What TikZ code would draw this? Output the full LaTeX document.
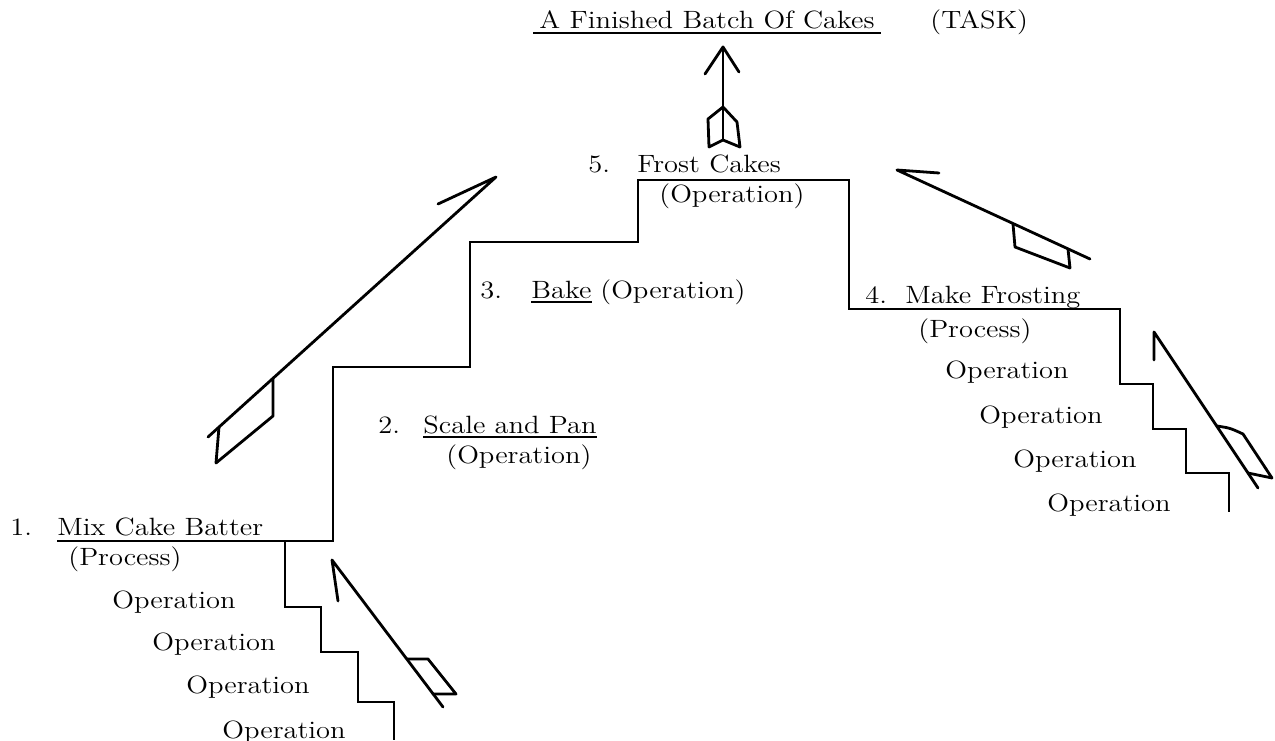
\documentclass[tikz,border=0pt]{standalone}
\usepackage{graphicx}
\newcommand{\stretched}[1]{\scalebox{1.14}[1]{#1}}
\begin{document}
\begin{tikzpicture}[x=0.5pt, y=-0.5pt,
    lbl/.style={anchor=base west, inner sep=0pt, font=\fontsize{12.5}{15}\selectfont},
    stair/.style={line width=0.9pt},
    quill/.style={line width=1.4pt, line join=round, line cap=round}]
  \useasboundingbox (0,0) rectangle (1275,740);

  % Task
  \node[lbl] (task) at (539,28) {\stretched{A Finished Batch Of Cakes}};
  \node[lbl] (tasktag) at (930,28) {\stretched{(TASK)}};
  \draw[stair] ([xshift=-3pt,yshift=-2.5pt]task.base west) -- ([xshift=3pt,yshift=-2.5pt]task.base east);

  % Steps
  \node[lbl] (num1) at (10,535) {\stretched{1.}};
  \node[lbl] (mix) at (57,535) {\stretched{Mix Cake Batter}};
  \node[lbl] (mixkind) at (68,565) {\stretched{(Process)}};
  \node[lbl] (num2) at (378,433) {\stretched{2.}};
  \node[lbl] (scale) at (423,433) {\stretched{Scale and Pan}};
  \node[lbl] (scalekind) at (446,463) {\stretched{(Operation)}};
  \node[lbl] (num3) at (480,298) {\stretched{3.}};
  \node[lbl] (bake) at (531,298) {\stretched{Bake}};
  \node[lbl] (bakekind) at (600,298) {\stretched{(Operation)}};
  \node[lbl] (num4) at (865,303) {\stretched{4.}};
  \node[lbl] (frosting) at (905,303) {\stretched{Make Frosting}};
  \node[lbl] (frostingkind) at (918,337) {\stretched{(Process)}};
  \node[lbl] (num5) at (588,172) {\stretched{5.}};
  \node[lbl] (frost) at (637,172) {\stretched{Frost Cakes}};
  \node[lbl] (frostkind) at (659,202) {\stretched{(Operation)}};
  \draw[stair] ([yshift=-2pt]scale.base west) -- ([yshift=-2pt]scale.base east);
  \draw[stair] ([yshift=-2pt]bake.base west) -- ([yshift=-2pt]bake.base east);

  % Operations
  \foreach \i/\x/\y in {1/112/608, 2/152/650, 3/186/693, 4/222/738}
    \node[lbl] (opl\i) at (\x,\y) {\stretched{Operation}};
  \foreach \i/\x/\y in {1/945/378, 2/979/423, 3/1013/467, 4/1047/511}
    \node[lbl] (opr\i) at (\x,\y) {\stretched{Operation}};

  % Staircase
  \draw[stair] (mix.base west |- 0,541) -- (333,541) -- (333,367) -- (470,367) -- (470,242)
    -- (638,242) -- (638,180) -- (849,180) -- (849,309) -- (1120,309)
    -- (1120,384) -- (1153,384) -- (1153,429) -- (1186,429) -- (1186,473)
    -- (1229,473) -- (1229,512);
  \draw[stair] (285,541) -- (285,607) -- (321,607) -- (321,652) -- (358,652)
    -- (358,702) -- (394,702) -- (394,740);

  % Arrows
  \coordinate (up tip) at (723,47);
  \coordinate (up tail) at (723,140);
  \draw[quill] (705,74) -- (up tip) -- (739,72);
  \draw[quill] (up tip) -- (up tail);
  \draw[quill] (723,107) -- (708,119) -- (709,147) -- (up tail) -- (740,147) -- (737,122) -- cycle;

  \coordinate (left tip) at (496,177);
  \coordinate (left tail) at (208,437);
  \draw[quill] (438,204) -- (left tip) -- (left tail);
  \draw[quill] (273,378) -- (273,416) -- (216,463) -- (219,427);

  \coordinate (right tip) at (897,170);
  \coordinate (right tail) at (1090,259);
  \draw[quill] (939,173) -- (right tip) -- (right tail);
  \draw[quill] (1013,224) -- (1015,247) -- (1070,268) -- (1068,249);

  \coordinate (low tip) at (332,560);
  \coordinate (low tail) at (443,707);
  \draw[quill] (338,601) -- (low tip) -- (low tail);
  \draw[quill] (407,659) -- (428,659) -- (456,694) -- (433,694);

  \coordinate (far tip) at (1154,332);
  \coordinate (far tail) at (1258,488);
  \draw[quill] (1154,360) -- (far tip) -- (far tail);
  \draw[quill] (1217,426) .. controls (1230,428) .. (1243,434) -- (1272,478) -- (1248,473);
\end{tikzpicture}
\end{document}
